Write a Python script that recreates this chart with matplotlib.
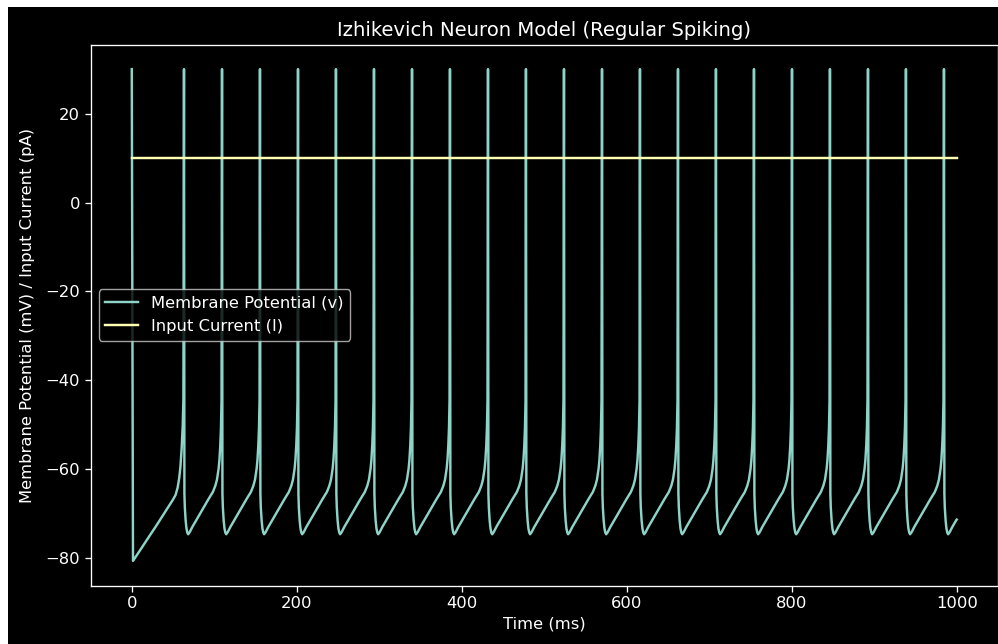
import numpy as np
import matplotlib.pyplot as plt
from matplotlib.patches import Rectangle

# Spike times (ms)
spike_times = [63.3, 109.4, 155.4, 201.5, 247.5, 293.6, 339.7, 385.7, 431.8, 477.8,
               523.9, 570.0, 616.0, 662.1, 708.1, 754.2, 800.3, 846.3, 892.4, 938.4, 984.5]

# First interval (from t=0 up to the first regular spike)
first_t = [0.0, 1.5, 10.0, 20.0, 30.0, 40.0, 50.0, 53.0, 55.5, 57.5, 59.0, 60.5, 61.8, 62.6]
first_v = [30.0, -80.6, -78.2, -75.4, -72.6, -69.7, -66.8, -65.8, -64.2, -62.0, -59.4, -55.2, -50.0, -44.0]

# One regular inter-spike cycle, offsets (ms) after a spike
cycle_dt = [0.0, 0.5, 1.0, 2.0, 3.0, 4.0, 5.0, 7.0, 10.0, 15.0, 20.0, 25.0, 30.0, 35.0,
            38.0, 40.0, 42.0, 43.0, 44.0, 44.8, 45.5]
cycle_v = [30.0, -65.5, -68.5, -71.5, -73.3, -74.2, -74.6, -74.1, -73.0, -71.4, -69.8,
           -68.2, -66.6, -65.1, -63.7, -62.3, -59.8, -57.8, -54.6, -50.8, -44.5]

end_t, end_v = 1000.0, -71.3

# Input current
current_t = [0, 1000]
current_i = [10, 10]

# assemble the membrane trace from the read pieces
t_all = list(first_t)
v_all = list(first_v)
for k, s in enumerate(spike_times):
    limit = spike_times[k + 1] if k + 1 < len(spike_times) else end_t
    for dt, v in zip(cycle_dt, cycle_v):
        if s + dt < limit:
            t_all.append(s + dt)
            v_all.append(v)
t_all.append(end_t)
v_all.append(end_v)

plt.style.use('dark_background')
plt.rcParams.update({
    'font.size': 11.8,
    'axes.titlesize': 14.1,
    'lines.linewidth': 1.75,
    'axes.linewidth': 0.95,
    'xtick.major.width': 0.95,
    'ytick.major.width': 0.95,
    'xtick.major.size': 4.1,
    'ytick.major.size': 4.1,
})

fig = plt.figure(figsize=(9.98, 6.44), dpi=100)
fig.patch.set_facecolor('white')
fig.patches.append(Rectangle((8 / 998, 0), 1, 1 - 7 / 644, transform=fig.transFigure,
                             facecolor='black', edgecolor='none', zorder=-10))

ax = fig.add_axes([0.0907, 0.0908, 0.9093, 0.8401])
ax.set_facecolor('black')
ax.plot(t_all, v_all, label='Membrane Potential (v)')
ax.plot(current_t, current_i, label='Input Current (I)')
ax.set_title('Izhikevich Neuron Model (Regular Spiking)')
ax.set_xlabel('Time (ms)')
ax.set_ylabel('Membrane Potential (mV) / Input Current (pA)', labelpad=7)
ax.legend(loc='center left')

plt.savefig('out.png', dpi=100, facecolor=fig.get_facecolor())
